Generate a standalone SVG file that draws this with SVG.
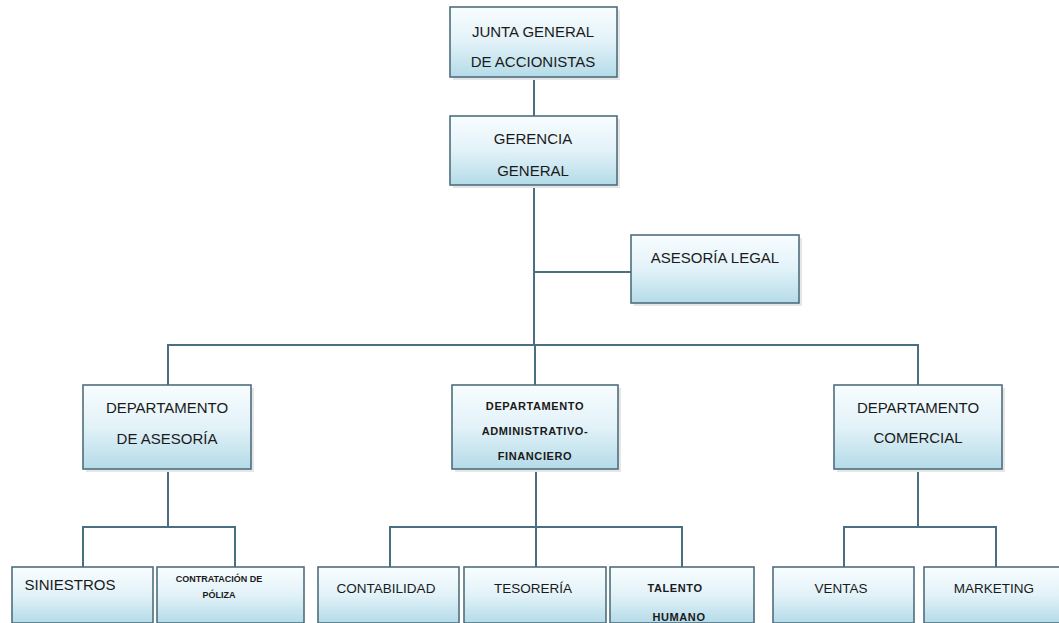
<svg xmlns="http://www.w3.org/2000/svg" width="1059" height="623" viewBox="0 0 1059 623">
  <defs>
    <linearGradient id="boxGrad" x1="0" y1="0" x2="0" y2="1">
      <stop offset="0" stop-color="#f8fdff"/>
      <stop offset="0.5" stop-color="#e2f2f8"/>
      <stop offset="1" stop-color="#b4dbe8"/>
    </linearGradient>
  </defs>
  <style>
    .box { fill: url(#boxGrad); stroke: #4f6e7e; stroke-width: 1.6; }
    .shadow { fill: #e6e6e6; stroke: none; }
    .lbl { font-family: "Liberation Sans", Arial, sans-serif; font-size: 15px; fill: #1a1a1a; text-anchor: middle; }
    .sm { font-size: 11px; font-weight: bold; letter-spacing: 0.6px; }
    .md { font-size: 13.5px; }
    .xs { font-size: 9px; font-weight: bold; }
    .conn { stroke: #4a6f80; stroke-width: 2; fill: none; }
  </style>
  <rect width="1059" height="623" fill="#ffffff"/>

  <g id="connectors">
    <path class="conn" d="M534 77 V116"/>
    <path class="conn" d="M534 185 V345"/>
    <path class="conn" d="M534 272 H631"/>
    <path class="conn" d="M168 385 V345 H918 V385"/>
    <path class="conn" d="M535 345 V385"/>
    <path class="conn" d="M168 469 V527"/>
    <path class="conn" d="M83 567 V527 H235 V567"/>
    <path class="conn" d="M536 469 V567"/>
    <path class="conn" d="M390 567 V527 H682 V567"/>
    <path class="conn" d="M918 469 V527"/>
    <path class="conn" d="M844 567 V527 H996 V567"/>
  </g>

  <g id="junta">
    <rect class="shadow" x="453" y="10" width="167" height="70"/>
    <rect class="box" x="450" y="7" width="167" height="70"/>
    <text class="lbl" x="533" y="37">JUNTA GENERAL</text>
    <text class="lbl" x="533" y="67">DE ACCIONISTAS</text>
  </g>

  <g id="gerencia">
    <rect class="shadow" x="453" y="119" width="167" height="69"/>
    <rect class="box" x="450" y="116" width="167" height="69"/>
    <text class="lbl" x="533" y="144">GERENCIA</text>
    <text class="lbl" x="533" y="176">GENERAL</text>
  </g>

  <g id="asesoria-legal">
    <rect class="shadow" x="634" y="238" width="168" height="68"/>
    <rect class="box" x="631" y="235" width="168" height="68"/>
    <text class="lbl" x="715" y="263">ASESORÍA LEGAL</text>
  </g>

  <g id="dep-asesoria">
    <rect class="shadow" x="86" y="388" width="168" height="84"/>
    <rect class="box" x="83" y="385" width="168" height="84"/>
    <text class="lbl" x="167" y="413">DEPARTAMENTO</text>
    <text class="lbl" x="167" y="444">DE ASESORÍA</text>
  </g>

  <g id="dep-admin">
    <rect class="shadow" x="455" y="388" width="166" height="84"/>
    <rect class="box" x="452" y="385" width="166" height="84"/>
    <text class="lbl sm" x="535" y="410">DEPARTAMENTO</text>
    <text class="lbl sm" x="535" y="435">ADMINISTRATIVO-</text>
    <text class="lbl sm" x="535" y="460">FINANCIERO</text>
  </g>

  <g id="dep-comercial">
    <rect class="shadow" x="837" y="388" width="168" height="84"/>
    <rect class="box" x="834" y="385" width="168" height="84"/>
    <text class="lbl" x="918" y="413">DEPARTAMENTO</text>
    <text class="lbl" x="918" y="443">COMERCIAL</text>
  </g>

  <g id="siniestros">
    <rect class="box" x="12" y="567" width="141" height="56"/>
    <text class="lbl" x="70" y="590">SINIESTROS</text>
  </g>

  <g id="contratacion">
    <rect class="box" x="157" y="567" width="147" height="56"/>
    <text class="lbl xs" x="219" y="582">CONTRATACIÓN DE</text>
    <text class="lbl xs" x="219" y="598">PÓLIZA</text>
  </g>

  <g id="contabilidad">
    <rect class="box" x="318" y="567" width="141" height="56"/>
    <text class="lbl md" x="386" y="593">CONTABILIDAD</text>
  </g>

  <g id="tesoreria">
    <rect class="box" x="464" y="567" width="142" height="56"/>
    <text class="lbl md" x="533" y="593">TESORERÍA</text>
  </g>

  <g id="talento">
    <rect class="box" x="610" y="567" width="144" height="56"/>
    <text class="lbl sm" x="675" y="592">TALENTO</text>
    <text class="lbl sm" x="679" y="621">HUMANO</text>
  </g>

  <g id="ventas">
    <rect class="box" x="773" y="567" width="141" height="56"/>
    <text class="lbl md" x="841" y="593">VENTAS</text>
  </g>

  <g id="marketing">
    <rect class="box" x="924" y="567" width="140" height="56"/>
    <text class="lbl md" x="994" y="593">MARKETING</text>
  </g>
</svg>
